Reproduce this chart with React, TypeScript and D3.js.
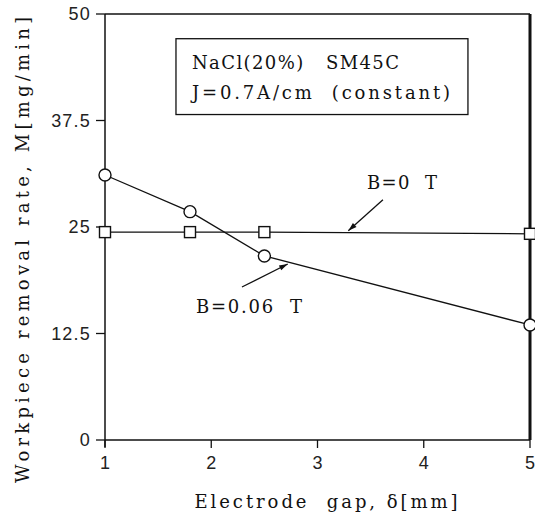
import { useMemo } from 'react';
import * as d3 from 'd3';

const gapValues = [1, 1.8, 2.5, 5];
const rateB006 = [31.1, 26.8, 21.6, 13.5];
const rateB0 = [24.4, 24.4, 24.4, 24.2];
const xTickValues = [1, 2, 3, 4, 5];
const yTickValues = [0, 12.5, 25, 37.5, 50];
const yTickLabels = ['0', '12.5', '25', '37.5', '50'];

const serif = '"DejaVu Serif", "Liberation Serif", serif';
const sans = '"Liberation Sans", Arial, sans-serif';

export default function App() {
  const width = 535;
  const height = 515;
  const margin = { top: 14, right: 5, bottom: 75, left: 105 };
  const innerWidth = width - margin.left - margin.right;
  const innerHeight = height - margin.top - margin.bottom;

  const { x, y, circlePts, squarePts } = useMemo(() => {
    const x = d3.scaleLinear().domain([1, 5]).range([0, innerWidth]);
    const y = d3.scaleLinear().domain([0, 50]).range([innerHeight, 0]);
    const circlePts = gapValues.map((g, i) => [x(g), y(rateB006[i])] as [number, number]);
    const squarePts = gapValues.map((g, i) => [x(g), y(rateB0[i])] as [number, number]);
    return { x, y, circlePts, squarePts };
  }, [innerWidth, innerHeight]);

  const line = d3.line();

  // annotation anchors in data units
  const box = { x0: 1.668, x1: 4.416, y0: 47.1, y1: 38.2 };
  const arrowB0 = { from: [3.616, 28.2], to: [3.29, 24.55] };
  const arrowB006 = { from: [2.289, 17.96], to: [2.72, 20.66] };

  const arrow = (a: { from: number[]; to: number[] }, key: string) => {
    const x1 = x(a.from[0]), y1 = y(a.from[1]);
    const x2 = x(a.to[0]), y2 = y(a.to[1]);
    const ang = Math.atan2(y2 - y1, x2 - x1);
    const len = 9, spread = 0.3;
    const p1 = [x2 - len * Math.cos(ang - spread), y2 - len * Math.sin(ang - spread)];
    const p2 = [x2 - len * Math.cos(ang + spread), y2 - len * Math.sin(ang + spread)];
    return (
      <g key={key}>
        <line x1={x1} y1={y1} x2={x2} y2={y2} stroke="#111" strokeWidth={1.3} />
        <path d={`M${p1[0]},${p1[1]}L${x2},${y2}L${p2[0]},${p2[1]}Z`} fill="#111" />
      </g>
    );
  };

  return (
    <svg
      width={width}
      height={height}
      style={{ position: 'absolute', left: 0, top: 0, background: '#fff' }}
    >
      <g transform={`translate(${margin.left},${margin.top})`}>
        {/* frame */}
        <line x1={0} x2={innerWidth} y1={0} y2={0} stroke="#111" strokeWidth={1.5} />
        <line x1={innerWidth} x2={innerWidth} y1={0} y2={innerHeight} stroke="#111" strokeWidth={3} />
        <line x1={0} x2={innerWidth} y1={innerHeight} y2={innerHeight} stroke="#111" strokeWidth={1.5} />
        <line x1={0} x2={0} y1={0} y2={innerHeight + 7} stroke="#111" strokeWidth={1.5} />

        {/* y axis ticks */}
        {yTickValues.map((t, i) => (
          <g key={`yt-${i}`} transform={`translate(0,${y(t)})`}>
            <line x1={-9} x2={0} stroke="#111" strokeWidth={1.3} />
            <text
              x={-14}
              dy="0.35em"
              textAnchor="end"
              fontFamily={sans}
              fontSize={18}
              letterSpacing={1.2}
              fill="#222"
            >
              {yTickLabels[i]}
            </text>
          </g>
        ))}

        {/* x axis ticks */}
        {xTickValues.map((t, i) => (
          <g key={`xt-${i}`} transform={`translate(${x(t)},${innerHeight})`}>
            <line y1={0} y2={8} stroke="#111" strokeWidth={1.3} />
            <text y={29} textAnchor="middle" fontFamily={sans} fontSize={18} fill="#222">
              {t}
            </text>
          </g>
        ))}

        {/* series lines */}
        <path d={line(squarePts) ?? ''} fill="none" stroke="#111" strokeWidth={1.3} />
        <path d={line(circlePts) ?? ''} fill="none" stroke="#111" strokeWidth={1.3} />

        {/* markers */}
        {squarePts.map(([px, py], i) => (
          <rect
            key={`sq-${i}`}
            x={px - 5.5}
            y={py - 5.5}
            width={11}
            height={11}
            fill="#fff"
            stroke="#111"
            strokeWidth={1.4}
          />
        ))}
        {circlePts.map(([px, py], i) => (
          <circle key={`ci-${i}`} cx={px} cy={py} r={6} fill="#fff" stroke="#111" strokeWidth={1.4} />
        ))}

        {/* annotations */}
        {arrow(arrowB0, 'a0')}
        {arrow(arrowB006, 'a1')}
        <text
          x={x(3.466)}
          y={y(30.16)}
          dy="0.35em"
          fontFamily={serif}
          fontSize={18}
          textLength={70}
          lengthAdjust="spacing"
          fill="#111"
          style={{ whiteSpace: 'pre' }}
        >
          B=0  T
        </text>
        <text
          x={x(1.856)}
          y={y(15.6)}
          dy="0.35em"
          fontFamily={serif}
          fontSize={18}
          textLength={106}
          lengthAdjust="spacing"
          fill="#111"
          style={{ whiteSpace: 'pre' }}
        >
          B=0.06  T
        </text>

        {/* condition box */}
        <rect
          x={x(box.x0)}
          y={y(box.y0)}
          width={x(box.x1) - x(box.x0)}
          height={y(box.y1) - y(box.y0)}
          fill="#fff"
          stroke="#111"
          strokeWidth={1.3}
        />
        <text
          x={x(box.x0) + 16}
          y={y(box.y0) + 24}
          dy="0.35em"
          fontFamily={serif}
          fontSize={18}
          textLength={207}
          lengthAdjust="spacing"
          fill="#111"
          style={{ whiteSpace: 'pre' }}
        >
          NaCl(20%)   SM45C
        </text>
        <text
          x={x(box.x0) + 16}
          y={y(box.y0) + 54}
          dy="0.35em"
          fontFamily={serif}
          fontSize={18}
          textLength={258}
          lengthAdjust="spacing"
          fill="#111"
          style={{ whiteSpace: 'pre' }}
        >
          J=0.7A/cm  (constant)
        </text>
      </g>

      {/* axis titles */}
      <text
        x={326}
        y={502}
        dy="0.35em"
        textAnchor="middle"
        fontFamily={serif}
        fontSize={18}
        textLength={263}
        lengthAdjust="spacing"
        fill="#111"
        style={{ whiteSpace: 'pre' }}
      >
        Electrode  gap, δ[mm]
      </text>
      <text
        transform={`translate(23,${250}) rotate(-90)`}
        dy="0.35em"
        textAnchor="middle"
        fontFamily={serif}
        fontSize={18}
        textLength={466}
        lengthAdjust="spacing"
        fill="#111"
        style={{ whiteSpace: 'pre' }}
      >
        Workpiece removal rate, M[mg/min]
      </text>
    </svg>
  );
}
